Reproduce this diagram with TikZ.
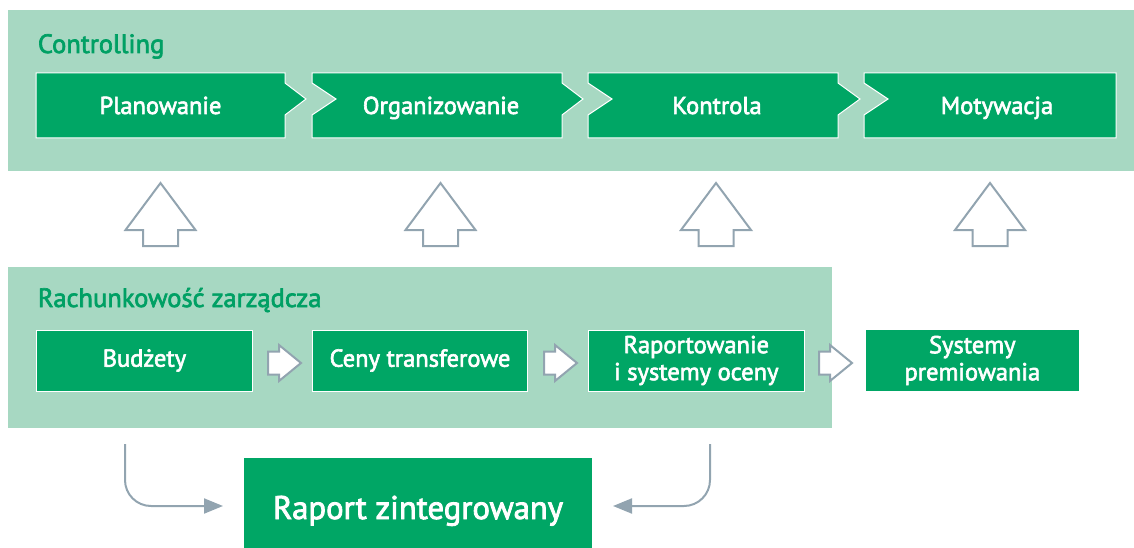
\documentclass[tikz,border=0pt]{standalone}
\usepackage{fontspec}
\setmainfont{PT Sans}
\newfontfamily\medf{PT Sans}[FakeBold=2.5]
\usetikzlibrary{arrows.meta}
\definecolor{panel}{RGB}{167,216,194}
\definecolor{boxg}{RGB}{0,166,101}
\definecolor{titleg}{RGB}{0,160,100}
\definecolor{arrg}{RGB}{146,164,176}
\tikzset{
  chev/.style={fill=boxg,draw=white,line width=1pt},
  chevtext/.style={anchor=base,text=white,font=\medf\fontsize{24.5}{27}\selectfont,inner sep=0pt},
  gbox/.style={fill=boxg,draw=white,line width=1pt,text=white,minimum height=61pt,inner sep=0pt,align=center,font=\medf\fontsize{24.5}{27}\selectfont},
  title/.style={anchor=base west,text=titleg,inner sep=0pt,font=\medf\fontsize{26.5}{30}\selectfont},
  uparr/.style={fill=white,draw=arrg,line width=2pt},
  rarr/.style={fill=white,draw=arrg,line width=2pt},
  conn/.style={draw=arrg,line width=2pt,rounded corners=26pt,-{Triangle[length=19pt,width=15pt]}}
}
\begin{document}
\begin{tikzpicture}[x=1pt,y=-1pt]
\useasboundingbox (0,0) rectangle (1134,548);
% panels
\fill[panel] (8,10) rectangle (1134,171);
\fill[panel] (8,267) rectangle (832,428);
\node[title] (tc) at (37.7,53) {Controlling};
\node[title] (tr) at (37.7,307) {Rachunkowość zarządcza};
% chevrons
\draw[chev] (36,73) -- (285,73) -- (285,83) -- (306,99) -- (285,115) -- (285,138) -- (36,138) -- cycle;
\draw[chev] (312,73) -- (562,73) -- (562,83) -- (583,99) -- (562,115) -- (562,138) -- (312,138) -- (312,115) -- (336,99) -- (312,83) -- cycle;
\draw[chev] (588,73) -- (838,73) -- (838,83) -- (860,99) -- (838,115) -- (838,138) -- (588,138) -- (588,115) -- (612,99) -- (588,83) -- cycle;
\draw[chev] (864,73) -- (1116,73) -- (1116,138) -- (864,138) -- (864,115) -- (888,99) -- (864,83) -- cycle;
\node[chevtext] (p1) at (160.5,114) {Planowanie};
\node[chevtext] (p2) at (441,114) {Organizowanie};
\node[chevtext] (p3) at (717,114) {Kontrola};
\node[chevtext] (p4) at (997,114) {Motywacja};
% up arrows
\foreach \cx/\nm in {160.5/u1,440.5/u2,716/u3,990/u4}{
  \draw[uparr] (\cx,183) -- (\cx+35,230) -- (\cx+17.5,230) -- (\cx+17.5,246) -- (\cx-17.5,246) -- (\cx-17.5,230) -- (\cx-35,230) -- cycle;
  \coordinate (\nm) at (\cx,215);
}
% bottom boxes
\node[gbox,minimum width=216pt] (b1) at (144.4,360.5) {Budżety};
\node[gbox,minimum width=215pt] (b2) at (420,360.5) {Ceny transferowe};
\node[gbox,minimum width=216pt] (b3) at (696.3,360.5) {Raportowanie\\i systemy oceny};
\node[gbox,minimum width=213pt,draw=none] (b4) at (972.3,360.5) {Systemy\\premiowania};
% small right arrows
\foreach \L in {268,544,819}{
  \draw[rarr] (\L,351.5) -- (\L+11,351.5) -- (\L+11,345) -- (\L+33,363) -- (\L+11,381) -- (\L+11,374.5) -- (\L,374.5) -- cycle;
}
% raport
\fill[boxg] (244,458) rectangle (592,552);
\node[anchor=base,text=white,inner sep=0pt,font=\medf\fontsize{32.7}{38}\selectfont] (rz) at (418,519) {Raport zintegrowany};
% connectors
\coordinate (s1) at (125,444);
\coordinate (e1) at (223,506);
\coordinate (s2) at (710,444);
\coordinate (e2) at (613,506);
\draw[conn] (s1) |- (e1);
\draw[conn] (s2) |- (e2);
\end{tikzpicture}
\end{document}
